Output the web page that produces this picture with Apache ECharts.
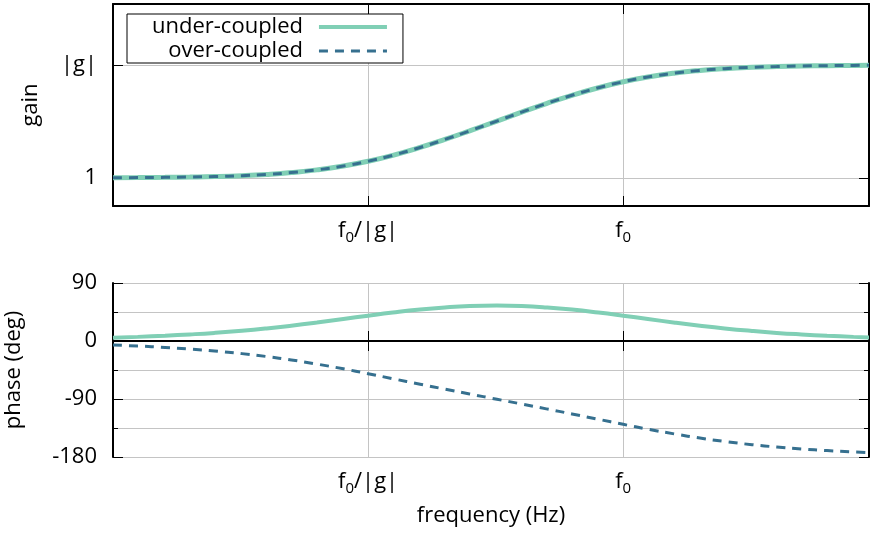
<!DOCTYPE html>
<html>
<head>
<meta charset="utf-8">
<title>gain and phase</title>
<script src="https://cdn.jsdelivr.net/npm/echarts@6/dist/echarts.min.js"></script>
<style>
  html, body { margin: 0; padding: 0; background: #fff; }
  #chart { width: 870px; height: 538px; }
</style>
</head>
<body>
<div id="chart"></div>
<script>
// frequency in units of f0, |g| taken as 10
var freq = [0.01, 0.0125, 0.016, 0.02, 0.025, 0.032, 0.04, 0.05, 0.063, 0.08,
  0.1, 0.125, 0.16, 0.2, 0.25, 0.32, 0.4, 0.5, 0.63, 0.8,
  1, 1.25, 1.6, 2, 2.5, 3.2, 4, 5, 6.3, 8, 9.2];
// gain is the same for both cases
var gain = [1.005, 1.008, 1.013, 1.020, 1.030, 1.049, 1.076, 1.117, 1.180, 1.277,
  1.407, 1.588, 1.863, 2.193, 2.612, 3.193, 3.828, 4.561, 5.397, 6.296,
  7.106, 7.834, 8.497, 8.955, 9.292, 9.549, 9.704, 9.808, 9.878, 9.924, 9.942];
var phaseUnder = [5.1, 6.4, 8.2, 10.2, 12.6, 15.9, 19.5, 23.7, 28.6, 34.1,
  39.3, 44.2, 48.9, 52.1, 54.2, 54.9, 54.2, 52.1, 48.8, 44.2,
  39.3, 34.1, 28.4, 23.7, 19.5, 15.6, 12.6, 10.2, 8.1, 6.4, 5.6];
var phaseOver = [-6.3, -7.8, -10.0, -12.5, -15.5, -19.6, -24.1, -29.4, -35.8, -43.2,
  -50.7, -58.5, -67.1, -74.7, -82.2, -90.4, -97.8, -105.3, -113.2, -121.5,
  -129.3, -136.8, -144.4, -150.6, -155.9, -160.9, -164.5, -167.5, -170.1, -172.2, -173.2];
var phaseTicks = [-180, -90, 0, 90];

var FONT = 'Open Sans';
var FS = 22;
var underColor = '#80cfb5';
var overColor = '#36708f';
var gridColor = '#c4c4c4';

function pairs(ys) {
  return freq.map(function (f, i) { return [f, ys[i]]; });
}
function near(v, t) {
  return Math.abs(Math.log10(v) - Math.log10(t)) < 1e-6;
}
function freqLabel(v) {
  if (near(v, 0.1)) return 'f{s|0}/|g|';
  if (near(v, 1)) return 'f{s|0}';
  return '';
}
function gainLabel(v) {
  if (near(v, 1)) return '1';
  if (near(v, 10)) return '|g|';
  return '';
}

var xLabel = {
  fontFamily: FONT, fontSize: FS, color: '#000', margin: 11,
  formatter: freqLabel,
  rich: { s: { fontFamily: FONT, fontSize: 15, padding: [13, 0, 0, 0] } }
};
var border = { show: true, lineStyle: { color: '#000', width: 2 } };
var tick = { show: true, inside: true, length: 10, lineStyle: { color: '#000', width: 1 } };
var grid = { show: true, lineStyle: { color: gridColor, width: 1 } };

function freqAxis(gi, pos, main) {
  return {
    type: 'log', gridIndex: gi, position: pos, min: 0.01, max: 9.2,
    axisLine: border, axisTick: tick,
    axisLabel: main ? xLabel : { show: false },
    splitLine: main ? grid : { show: false },
    name: (main && gi === 1) ? 'frequency (Hz)' : '',
    nameLocation: 'middle', nameGap: 48,
    nameTextStyle: { fontFamily: FONT, fontSize: FS, color: '#000' }
  };
}

var chart = echarts.init(document.getElementById('chart'));
chart.setOption({
  animation: false,
  backgroundColor: '#fff',
  grid: [
    { left: 113, right: 1, top: 4, height: 202, outerBoundsMode: 'none' },
    { left: 113, right: 1, top: 283, height: 174, outerBoundsMode: 'none' }
  ],
  legend: {
    data: [
      { name: 'under-coupled', lineStyle: { width: 4 } },
      { name: 'over-coupled', lineStyle: { width: 3 } }
    ],
    orient: 'vertical', align: 'right',
    left: 127, top: 14,
    itemWidth: 68, itemHeight: 24, itemGap: 0,
    padding: [1, 14, 0, 25],
    backgroundColor: '#fff', borderColor: '#000', borderWidth: 1, borderRadius: 0,
    selectedMode: false,
    itemStyle: { opacity: 0 },
    textStyle: { fontFamily: FONT, fontSize: FS, lineHeight: 24, color: '#000', padding: [0, 11, 0, 0] }
  },
  xAxis: [
    freqAxis(0, 'bottom', true),
    freqAxis(0, 'top', false),
    freqAxis(1, 'bottom', true),
    freqAxis(1, 'top', false)
  ],
  yAxis: [
    {
      type: 'log', gridIndex: 0, position: 'left', min: 0.565, max: 34.7,
      axisLine: border, axisTick: tick, splitLine: grid,
      axisLabel: { fontFamily: FONT, fontSize: FS, color: '#000', margin: 16, formatter: gainLabel },
      name: 'gain', nameLocation: 'middle', nameGap: 71,
      nameTextStyle: { fontFamily: FONT, fontSize: FS, color: '#000' }
    },
    {
      type: 'log', gridIndex: 0, position: 'right', min: 0.565, max: 34.7,
      axisLine: border, axisTick: tick, splitLine: { show: false }, axisLabel: { show: false }
    },
    {
      type: 'value', gridIndex: 1, position: 'left',
      min: phaseTicks[0], max: phaseTicks[phaseTicks.length - 1], interval: 90,
      axisLine: border, axisTick: tick, splitLine: grid,
      minorTick: { show: true, splitNumber: 2, length: 5, lineStyle: { color: '#000' } },
      minorSplitLine: grid,
      axisLabel: { fontFamily: FONT, fontSize: FS, color: '#000', margin: 16 },
      name: 'phase (deg)', nameLocation: 'middle', nameGap: 88,
      nameTextStyle: { fontFamily: FONT, fontSize: FS, color: '#000' }
    },
    {
      type: 'value', gridIndex: 1, position: 'right',
      min: phaseTicks[0], max: phaseTicks[phaseTicks.length - 1], interval: 90,
      axisLine: border, axisTick: tick, splitLine: { show: false }, axisLabel: { show: false },
      minorTick: { show: true, splitNumber: 2, length: 5, lineStyle: { color: '#000' } }
    }
  ],
  series: [
    {
      name: 'under-coupled', type: 'line', xAxisIndex: 0, yAxisIndex: 0,
      data: pairs(gain), symbol: 'none', smooth: true,
      itemStyle: { color: underColor }, lineStyle: { color: underColor, width: 5 }
    },
    {
      name: 'over-coupled', type: 'line', xAxisIndex: 0, yAxisIndex: 0,
      data: pairs(gain), symbol: 'none', smooth: true, z: 3,
      itemStyle: { color: overColor },
      lineStyle: { color: overColor, width: 3, type: [9, 7] }
    },
    {
      name: 'under-coupled', type: 'line', xAxisIndex: 2, yAxisIndex: 2,
      data: pairs(phaseUnder), symbol: 'none', smooth: true,
      itemStyle: { color: underColor }, lineStyle: { color: underColor, width: 4 },
      markLine: {
        silent: true, symbol: 'none', label: { show: false },
        lineStyle: { color: '#000', width: 1.5, type: 'solid' },
        data: [{ yAxis: 0 }]
      }
    },
    {
      name: 'over-coupled', type: 'line', xAxisIndex: 2, yAxisIndex: 2,
      data: pairs(phaseOver), symbol: 'none', smooth: true, z: 3,
      itemStyle: { color: overColor },
      lineStyle: { color: overColor, width: 3, type: [9, 7] }
    }
  ]
});
</script>
</body>
</html>
